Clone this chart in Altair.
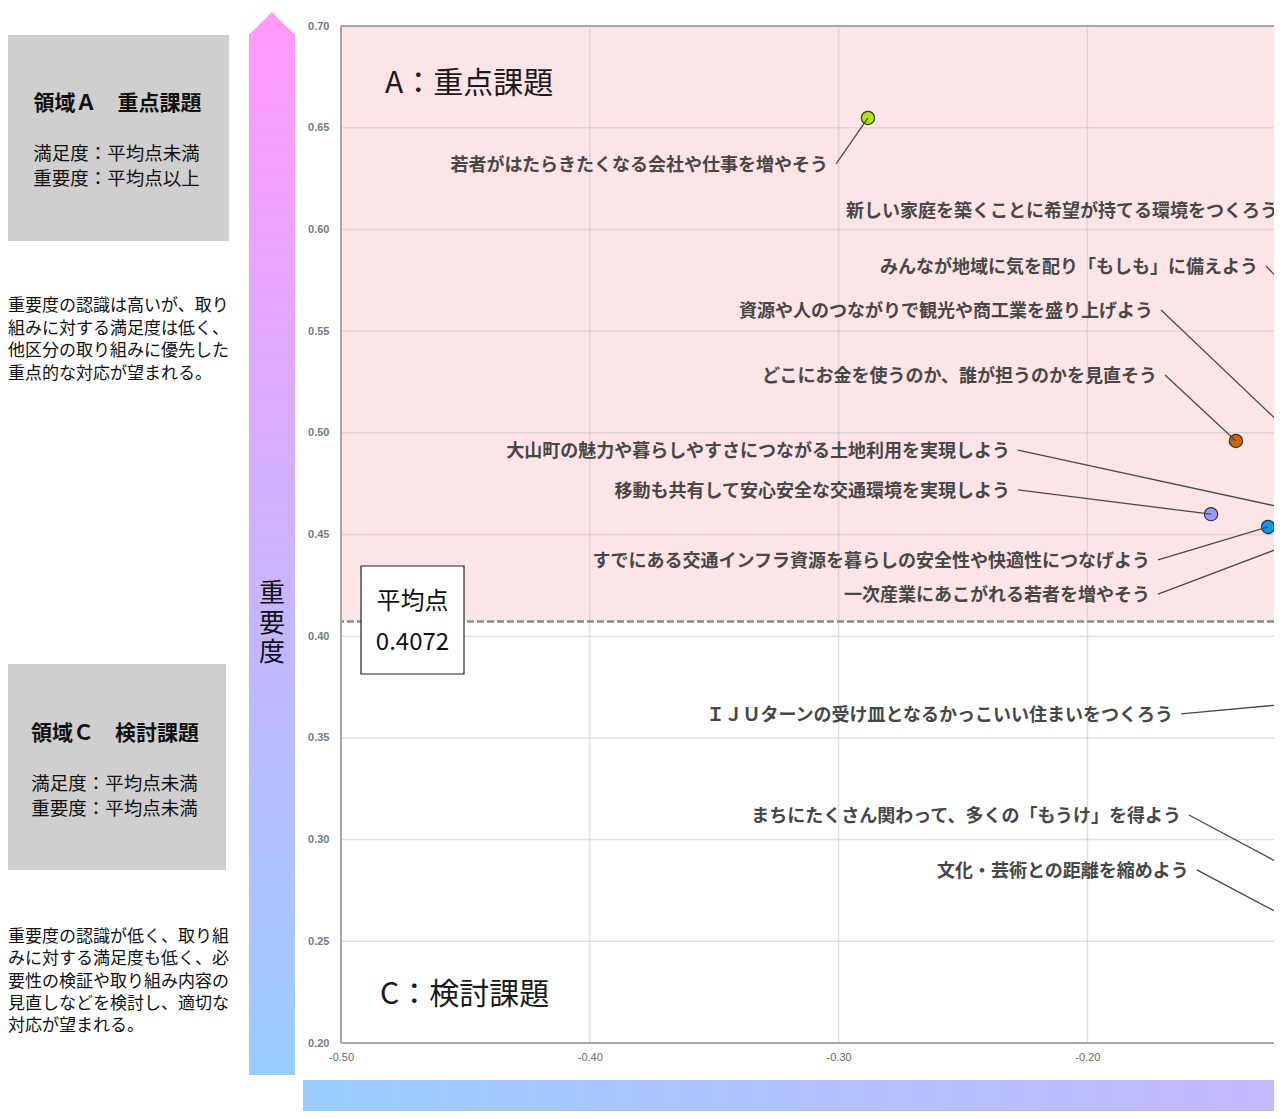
import altair as alt
import pandas as pd

JP = "Noto Sans CJK JP"

# ---------------- data ----------------
labels = [
    "若者がはたらきたくなる会社や仕事を増やそう",
    "新しい家庭を築くことに希望が持てる環境をつくろう",
    "みんなが地域に気を配り「もしも」に備えよう",
    "資源や人のつながりで観光や商工業を盛り上げよう",
    "どこにお金を使うのか、誰が担うのかを見直そう",
    "大山町の魅力や暮らしやすさにつながる土地利用を実現しよう",
    "移動も共有して安心安全な交通環境を実現しよう",
    "すでにある交通インフラ資源を暮らしの安全性や快適性につなげよう",
    "一次産業にあこがれる若者を増やそう",
    "ＩＪＵターンの受け皿となるかっこいい住まいをつくろう",
    "まちにたくさん関わって、多くの「もうけ」を得よう",
    "文化・芸術との距離を縮めよう",
]
satisfaction = [-0.2882, -0.060, -0.1025, -0.1065, -0.1403, -0.0904,
                -0.1503, -0.1274, -0.1025, -0.0985, -0.1065, -0.1065]
importance = [0.6548, 0.600, 0.549, 0.486, 0.496, 0.455,
              0.460, 0.4537, 0.4527, 0.369, 0.2777, 0.253]
label_x = [-0.3010, -0.1202, -0.1282, -0.1704, -0.1688, -0.2279,
           -0.2279, -0.1716, -0.1716, -0.1624, -0.1592, -0.1560]
label_y = [0.6322, 0.6095, 0.582, 0.5604, 0.5284, 0.4915,
           0.4719, 0.4375, 0.4207, 0.3618, 0.3121, 0.2851]
colors = ["#aee600", "#ff6699", "#ffcc00", "#66cc66", "#cc6600", "#cc99ff",
          "#9999ff", "#0099ff", "#33cccc", "#ff9933", "#999999", "#6699cc"]

x_ticks = [-0.50, -0.40, -0.30, -0.20]
y_ticks = [0.20, 0.25, 0.30, 0.35, 0.40, 0.45, 0.50, 0.55, 0.60, 0.65, 0.70]
X_DOMAIN = [-0.50, -0.125]
Y_DOMAIN = [0.20, 0.70]
MEAN_IMPORTANCE = 0.4072

region_a_title = "領域Ａ　重点課題"
region_a_cond = ["満足度：平均点未満", "重要度：平均点以上"]
region_a_desc = ["重要度の認識は高いが、取り", "組みに対する満足度は低く、",
                 "他区分の取り組みに優先した", "重点的な対応が望まれる。"]
region_c_title = "領域Ｃ　検討課題"
region_c_cond = ["満足度：平均点未満", "重要度：平均点未満"]
region_c_desc = ["重要度の認識が低く、取り組", "みに対する満足度も低く、必",
                 "要性の検証や取り組み内容の", "見直しなどを検討し、適切な",
                 "対応が望まれる。"]
quad_a = "A：重点課題"
quad_c = "C：検討課題"
y_title = ["重", "要", "度"]

df = pd.DataFrame({"label": labels, "sat": satisfaction, "imp": importance,
                   "lx": label_x, "ly": label_y, "color": colors})
df_xt = pd.DataFrame({"v": x_ticks})
df_yt = pd.DataFrame({"v": y_ticks})
one = pd.DataFrame({"k": [0]})

W, H = 933, 1017

XSC = alt.Scale(domain=X_DOMAIN, nice=False, zero=False)
YSC = alt.Scale(domain=Y_DOMAIN, nice=False, zero=False)
XAX = alt.Axis(values=x_ticks, title=None, domain=False, ticks=False, grid=False,
               labelExpr="(datum.value < 0 ? '-' : '') + format(abs(datum.value), '.2f')",
               labelPadding=8, labelFontSize=11, labelColor="#6b6b6b",
               labelFont="Liberation Sans Narrow, Liberation Sans", labelFlush=False,
               labelOverlap=False)
YAX = alt.Axis(values=y_ticks, title=None, domain=False, ticks=False, grid=False,
               format=".2f", labelPadding=12, labelFontSize=11, labelFontWeight="bold",
               labelColor="#737a84", labelFont="Liberation Sans", labelFlush=False,
               labelOverlap=False)


def X(field, **kw):
    return alt.X(field, type="quantitative", scale=XSC, axis=XAX, **kw)


def Y(field, **kw):
    return alt.Y(field, type="quantitative", scale=YSC, axis=YAX, **kw)


def XD(v):
    return alt.X(datum=v, type="quantitative", scale=XSC, axis=XAX)


def YD(v):
    return alt.Y(datum=v, type="quantitative", scale=YSC, axis=YAX)


def deco_text(text, x, y, size, weight="normal", align="center", line_height=None,
              color="#111111"):
    kw = dict(text=text, fontSize=size, fontWeight=weight, align=align,
              baseline="middle", font=JP, color=color, dy=2)
    if line_height:
        kw["lineHeight"] = line_height
    return alt.Chart(one).mark_text(**kw).encode(x=alt.value(x), y=alt.value(y))


def deco_rect(x, x2, y, y2, **kw):
    return alt.Chart(one).mark_rect(**kw).encode(
        x=alt.value(x), x2=alt.value(x2), y=alt.value(y), y2=alt.value(y2))


# ---------------- plot layers ----------------
pink = alt.Chart(one).mark_rect(color="#fde4e6").encode(
    x=XD(X_DOMAIN[0]), x2=alt.X2(datum=X_DOMAIN[1]),
    y=YD(MEAN_IMPORTANCE), y2=alt.Y2(datum=Y_DOMAIN[1]))

vgrid = alt.Chart(df_xt).mark_rule(color="#c8c8c8", opacity=0.55, strokeWidth=1.5).encode(x=X("v"))
hgrid = alt.Chart(df_yt).mark_rule(color="#c8c8c8", opacity=0.55, strokeWidth=1.5).encode(y=Y("v"))

mean_line = alt.Chart(one).mark_rule(color="#8c8c8c", strokeWidth=2.5, strokeDash=[7, 3]).encode(
    y=YD(MEAN_IMPORTANCE))

frame_left = alt.Chart(one).mark_rule(color="#a6a6a6", strokeWidth=2).encode(x=XD(X_DOMAIN[0]))
frame_top = alt.Chart(one).mark_rule(color="#a6a6a6", strokeWidth=2).encode(y=YD(Y_DOMAIN[1]))
frame_bottom = alt.Chart(one).mark_rule(color="#a6a6a6", strokeWidth=2).encode(y=YD(Y_DOMAIN[0]))

points = alt.Chart(df).mark_circle(size=175, opacity=1, stroke="#333333", strokeWidth=1.2,
                                   clip=True).encode(
    x=X("sat"), y=Y("imp"), fill=alt.Fill("color:N", scale=None))

leaders = alt.Chart(df).mark_rule(color="#4a4a4a", strokeWidth=1.3, clip=True).encode(
    x=X("lx"), y=Y("ly"), x2="sat:Q", y2="imp:Q")

texts = alt.Chart(df).mark_text(align="right", baseline="middle", dx=-8, dy=2, fontSize=18,
                                fontWeight="bold", color="#474747", font=JP).encode(
    x=X("lx"), y=Y("ly"), text="label:N")

quad_titles = [
    deco_text(quad_a, 44, 56, 30, align="left", color="#1a1a1a"),
    deco_text(quad_c, 39, 967, 30, align="left", color="#1a1a1a"),
]

mean_box = [
    deco_rect(20, 123, 540, 648, fill="white", stroke="#222222", strokeWidth=1.2),
    deco_text("平均点", 71.5, 574, 24),
    deco_text(f"{MEAN_IMPORTANCE:.4f}", 71.5, 615, 24),
]

# ---------------- left panel decorations ----------------
vgrad = {"gradient": "linear", "x1": 0, "y1": 0, "x2": 0, "y2": 1,
         "stops": [{"offset": 0, "color": "#ff99ff"}, {"offset": 1, "color": "#99ccff"}]}
hgrad = {"gradient": "linear", "x1": 0, "y1": 0, "x2": 1, "y2": 0,
         "stops": [{"offset": 0, "color": "#99ccff"}, {"offset": 1, "color": "#c4b7ff"}]}

arrow_body = deco_rect(-92, -46, 8, 1049, fill=vgrad)
arrow_head = alt.Chart(one).mark_point(shape="M -1 0.5 L 0 -0.5 L 1 0.5 Z", filled=True,
                                       size=2116, fill="#ff99ff", opacity=1,
                                       strokeWidth=0).encode(
    x=alt.value(-69), y=alt.value(-2.5))
y_label = deco_text(y_title, -69, 566, 26, line_height=29.5)
bottom_band = deco_rect(-38, W, 1054, 1085, fill=hgrad)

left_panel = [
    deco_rect(-333, -112, 9, 215, fill="#d0cece"),
    deco_text(region_a_title, -223.5, 76, 21, weight="bold"),
    deco_text(region_a_cond, -224.5, 126, 18.5, line_height=24.5),
    deco_text(region_a_desc, -333, 278, 17, align="left", line_height=22.5),
    deco_rect(-333, -115, 638, 844, fill="#d0cece"),
    deco_text(region_c_title, -226, 706, 21, weight="bold"),
    deco_text(region_c_cond, -226.5, 756, 18.5, line_height=24.5),
    deco_text(region_c_desc, -333, 909, 17, align="left", line_height=22.3),
    arrow_body, arrow_head, y_label, bottom_band,
]

chart = alt.layer(
    pink, vgrid, hgrid, mean_line, frame_left, frame_top, frame_bottom,
    points, leaders, texts, *quad_titles, *mean_box, *left_panel
).properties(
    width=W, height=H,
    padding={"left": 333, "top": 18, "right": 0, "bottom": 68},
    autosize=alt.AutoSizeParams(type="none"),
    background="white",
).configure_view(stroke=None)

chart.save("out.html", embed_options={"renderer": "svg", "actions": False})
